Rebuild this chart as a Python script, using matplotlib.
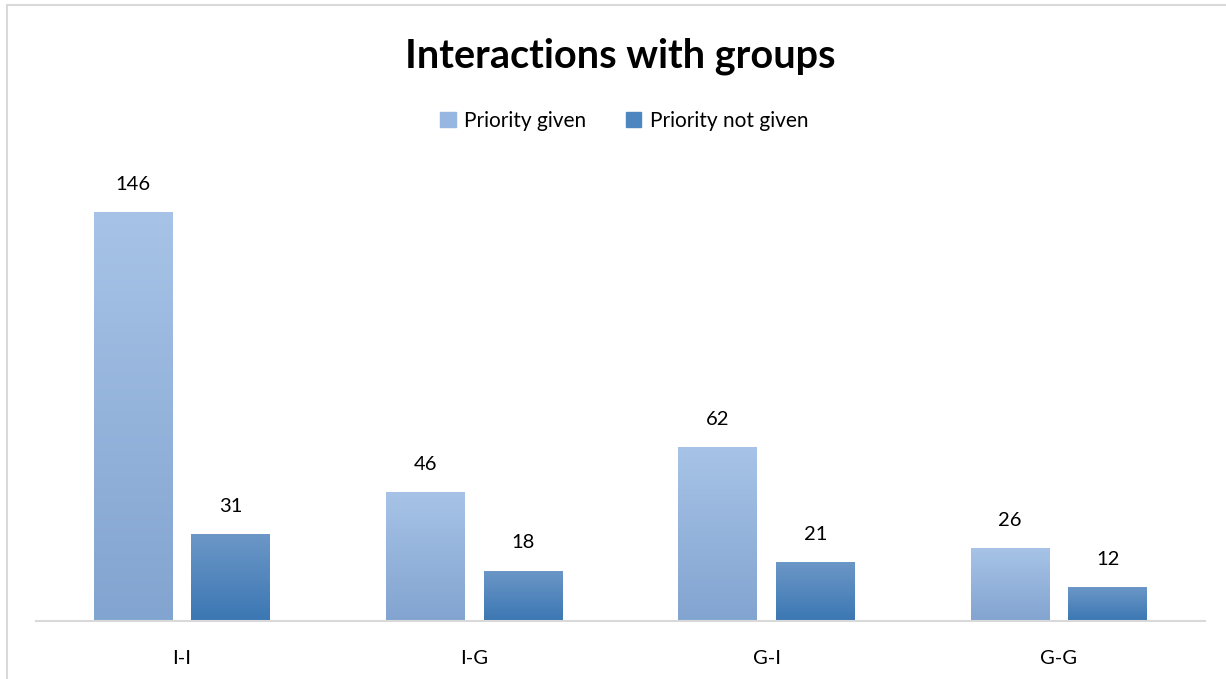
import numpy as np
import matplotlib
matplotlib.use('agg')
import matplotlib.pyplot as plt
from matplotlib.colors import LinearSegmentedColormap
from matplotlib.patches import Rectangle

categories = ['I-I', 'I-G', 'G-I', 'G-G']
priority_given = [146, 46, 62, 26]
priority_not_given = [31, 18, 21, 12]

plt.rcParams['font.family'] = ['Lato', 'DejaVu Sans']

fig = plt.figure(figsize=(12.26, 6.79), dpi=100)
ax = fig.add_axes([36 / 1226, 58 / 679, 1169 / 1226, 448 / 679])

# chart frame
fig.patches.append(Rectangle((7 / 1226, -0.01), 1.1, 1 - 5 / 679 + 0.01,
                             transform=fig.transFigure, fill=False,
                             edgecolor='#D9D9D9', linewidth=1.5))

light = LinearSegmentedColormap.from_list('light', ['#82A4D0', '#A7C3E7'])
dark = LinearSegmentedColormap.from_list('dark', ['#3B77B3', '#6C97C7'])

x = np.arange(len(categories))
w = 0.27
off = 0.167
grad = np.linspace(0, 1, 256).reshape(-1, 1)


def gradient_bars(xs, vals, cmap):
    bars = ax.bar(xs, vals, w, color='none', linewidth=0)
    for b in bars:
        x0, y0 = b.get_x(), b.get_y()
        im = ax.imshow(grad, cmap=cmap, origin='lower', aspect='auto',
                       extent=[x0, x0 + b.get_width(), y0, y0 + b.get_height()],
                       zorder=2)
        im.set_clip_path(b)
    for xi, v in zip(xs, vals):
        ax.text(xi, v + 7, str(v), ha='center', va='bottom', fontsize=14.5,
                color='#000000')
    return bars


gradient_bars(x - off, priority_given, light)
gradient_bars(x + off, priority_not_given, dark)

ax.set_xlim(-0.5, 3.5)
ax.set_ylim(0, 160)
ax.set_xticks(x)
ax.set_xticklabels(categories, fontsize=14.5)
ax.tick_params(axis='x', length=0, pad=21)
ax.set_yticks([])
for s in ['top', 'right', 'left']:
    ax.spines[s].set_visible(False)
ax.spines['bottom'].set_color('#D9D9D9')
ax.spines['bottom'].set_linewidth(1.5)

fig.text(620 / 1226, 1 - 56 / 679, 'Interactions with groups', ha='center',
         va='center', fontsize=28.5, fontweight='bold')

handles = [Rectangle((0, 0), 1, 1, color='#97B7E0'),
           Rectangle((0, 0), 1, 1, color='#4E86C0')]
fig.legend(handles, ['Priority given', 'Priority not given'], loc='center',
           bbox_to_anchor=(624 / 1226, 1 - 121 / 679), ncol=2, frameon=False,
           fontsize=15, handlelength=0.75, handleheight=0.75, handletextpad=0.4,
           columnspacing=1.9)

fig.savefig('out.png', dpi=100)
